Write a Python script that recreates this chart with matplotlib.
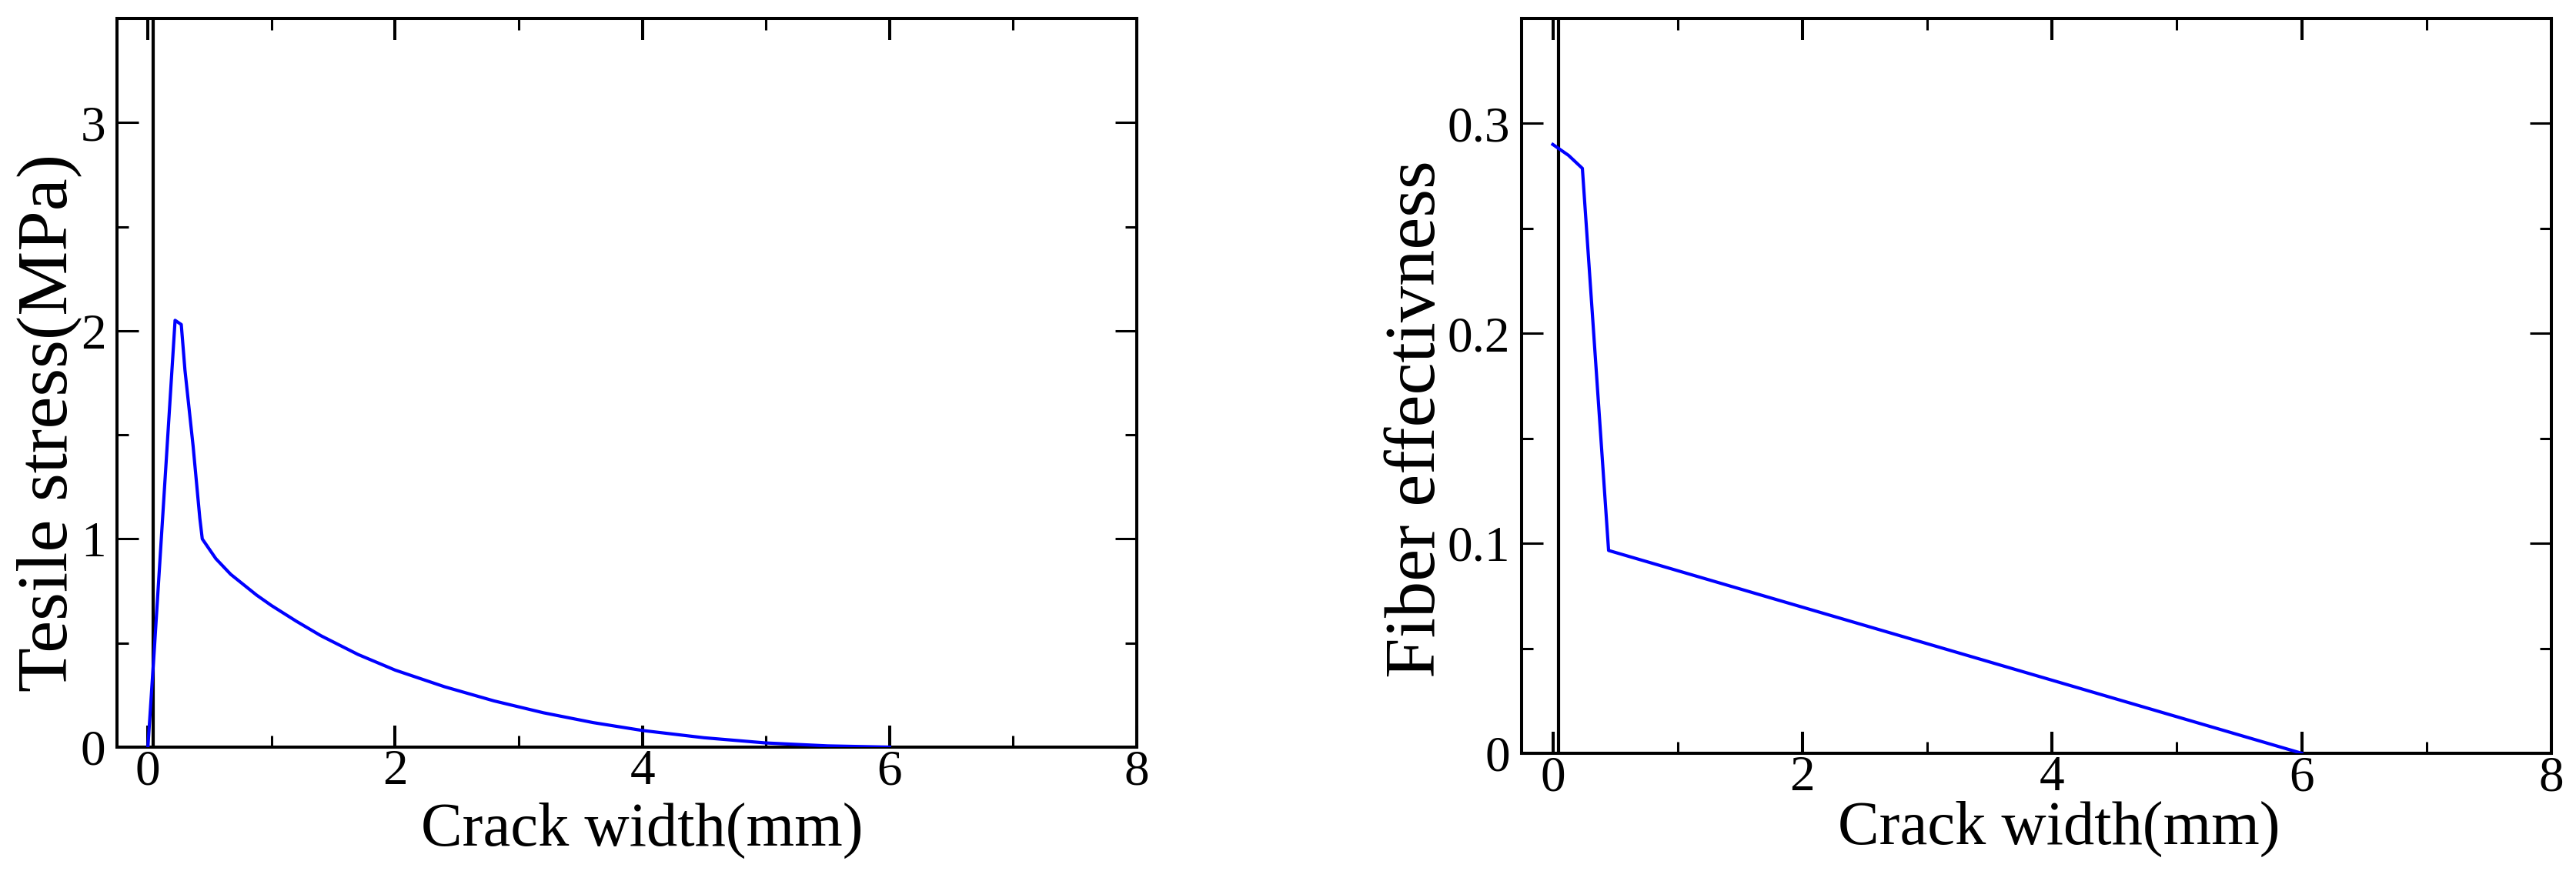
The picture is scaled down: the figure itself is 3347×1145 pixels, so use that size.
import matplotlib
matplotlib.use("Agg")
import matplotlib.pyplot as plt
from matplotlib.ticker import FixedLocator, FixedFormatter

# ---------------- data ----------------
# Left panel: tensile stress (MPa) vs crack width (mm)
stress_w = [0.0, 0.05, 0.22, 0.27, 0.30, 0.366, 0.42, 0.44, 0.55, 0.67, 0.88, 1.0,
            1.2, 1.4, 1.7, 2.0, 2.4, 2.8, 3.2, 3.6, 4.0, 4.5, 5.0, 5.5, 6.0]
stress_s = [0.0, 0.45, 2.05, 2.03, 1.81, 1.445, 1.10, 1.0, 0.905, 0.83, 0.73, 0.68,
            0.605, 0.535, 0.445, 0.37, 0.29, 0.222, 0.165, 0.118, 0.08, 0.045, 0.02, 0.006, 0.0]

# Right panel: fiber effectiveness vs crack width (mm)
fiber_w = [0.0, 0.126, 0.237, 0.447, 6.0]
fiber_e = [0.290, 0.2848, 0.2786, 0.0966, 0.0]

# vertical reference line position (crack width, mm)
ref_w = 0.045

x_major = [0, 2, 4, 6, 8]
x_minor = [1, 3, 5, 7]
x_labels = ["0", "2", "4", "6", "8"]

left_y_major = [0, 1, 2, 3]
left_y_minor = [0.5, 1.5, 2.5]
left_y_labels = ["0", "1", "2", "3"]

right_y_major = [0, 0.1, 0.2, 0.3]
right_y_minor = [0.05, 0.15, 0.25]
right_y_labels = ["0", "0.1", "0.2", "0.3"]

xlabel = "Crack width(mm)"
left_ylabel = "Tesile stress(MPa)"
right_ylabel = "Fiber effectivness"

# ---------------- style ----------------
FONT = ["Liberation Serif", "DejaVu Serif"]
plt.rcParams["font.family"] = FONT

W, H = 3347, 1145
DPI = 100
fig = plt.figure(figsize=(W / DPI, H / DPI), dpi=DPI)
fig.patch.set_facecolor("white")


def px_axes(l, r, t, b):
    return [l / W, 1 - b / H, (r - l) / W, (b - t) / H]


ax1 = fig.add_axes(px_axes(152, 1477, 24, 971))
ax2 = fig.add_axes(px_axes(1977, 3315, 24, 979))

BLUE = (0, 0, 1)
LW = 3.0
SPINE_W = 2.9


def style(ax, ymaj, ymin, ylabs, ylim, ylab, ylab_xy, xlab_xy):
    ax.set_xlim(-0.25, 8)
    ax.set_ylim(*ylim)
    ax.xaxis.set_major_locator(FixedLocator(x_major))
    ax.xaxis.set_minor_locator(FixedLocator(x_minor))
    ax.xaxis.set_major_formatter(FixedFormatter(x_labels))
    ax.yaxis.set_major_locator(FixedLocator(ymaj))
    ax.yaxis.set_minor_locator(FixedLocator(ymin))
    ax.yaxis.set_major_formatter(FixedFormatter(ylabs))
    for s in ax.spines.values():
        s.set_linewidth(SPINE_W)
        s.set_color("black")
    ax.tick_params(axis="both", which="both", direction="in",
                   top=True, right=True, colors="black")
    ax.tick_params(axis="x", which="major", length=20, width=2.9, pad=2,
                   labelsize=47)
    ax.tick_params(axis="x", which="minor", length=11, width=2.2)
    ax.tick_params(axis="y", which="major", length=20, width=2.2, pad=10.5,
                   labelsize=47)
    ax.tick_params(axis="y", which="minor", length=10.5, width=2.2)
    for lab in ax.get_xticklabels() + ax.get_yticklabels():
        lab.set_fontfamily(FONT)
    ax.set_xlabel(xlabel, fontsize=58, family=FONT)
    ax.set_ylabel(ylab, fontsize=68, family=FONT)
    ax.xaxis.set_label_coords(*xlab_xy)
    ax.yaxis.set_label_coords(*ylab_xy)


ax1.axvline(ref_w, color="black", lw=3.0, zorder=2)
ax1.plot(stress_w, stress_s, color=BLUE, lw=LW, zorder=3,
         solid_joinstyle="round")
style(ax1, left_y_major, left_y_minor, left_y_labels, (0, 3.5),
      left_ylabel, (-0.0347, 0.445), (0.515, -0.076))

ax2.axvline(ref_w, color="black", lw=3.0, zorder=2)
ax2.plot(fiber_w, fiber_e, color=BLUE, lw=LW, zorder=3,
         solid_joinstyle="round")
style(ax2, right_y_major, right_y_minor, right_y_labels, (0, 0.35),
      right_ylabel, (-0.0695, 0.455), (0.522, -0.065))

fig.savefig("out.png", dpi=DPI, facecolor="white")
